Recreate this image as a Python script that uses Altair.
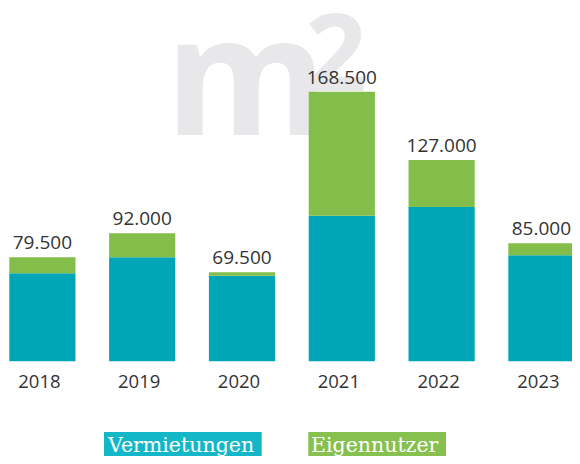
import altair as alt
import pandas as pd

# Data (m²)
years = ["2018", "2019", "2020", "2021", "2022", "2023"]
vermietungen = [55000, 65000, 53500, 91000, 96400, 66250]
eigennutzer = [10000, 15000, 2100, 77500, 29400, 7500]
total_labels = ["79.500", "92.000", "69.500", "168.500", "127.000", "85.000"]

legend_names = ["Vermietungen", "Eigennutzer"]

TEAL = "#00A6B6"
GREEN = "#84BE4A"
TEAL_LEG = "#14B7C7"
GREEN_LEG = "#86C150"
TXT = "#333333"
WM = "#E8E8EA"

df = pd.DataFrame({
    "year": years,
    "verm": vermietungen,
    "eigen": eigennutzer,
    "label": total_labels,
})
df["total"] = df["verm"] + df["eigen"]

xscale = alt.Scale(domain=years, range=[1.3, 566.5], paddingInner=0.337, paddingOuter=0)
yscale = alt.Scale(domain=[0, 220800], range=[353.3, 0])

X = alt.X("year:N", scale=xscale, axis=None)

base = alt.Chart(df)

wm_m = alt.Chart(pd.DataFrame({"t": ["m"]})).mark_text(
    font="Open Sans", fontSize=165, fontWeight="bold", color=WM, align="left", baseline="alphabetic"
).encode(text="t:N", x=alt.value(157), y=alt.value(127))

wm_2 = alt.Chart(pd.DataFrame({"t": ["2"]})).mark_text(
    font="Open Sans", fontSize=108, fontWeight="bold", color=WM, align="left", baseline="alphabetic"
).encode(text="t:N", x=alt.value(297), y=alt.value(83))

teal_bars = base.mark_bar(color=TEAL).encode(
    x=X, y=alt.Y("verm:Q", scale=yscale, axis=None)
)
green_bars = base.mark_bar(color=GREEN).encode(
    x=X, y=alt.Y("verm:Q", scale=yscale, axis=None), y2="total:Q"
)
value_labels = base.mark_text(
    font="Open Sans", fontSize=19, color=TXT, baseline="alphabetic", dy=-8
).encode(x=X, y=alt.Y("total:Q", scale=yscale, axis=None), text="label:N")

year_labels = base.mark_text(
    font="Open Sans", fontSize=18.5, color=TXT, baseline="alphabetic", dx=-3
).encode(x=X, y=alt.value(380), text="year:N")

leg1_box = alt.Chart(pd.DataFrame({"a": [0]})).mark_rect(color=TEAL_LEG).encode(
    x=alt.value(96), x2=alt.value(253.7), y=alt.value(424), y2=alt.value(460)
)
leg2_box = alt.Chart(pd.DataFrame({"a": [0]})).mark_rect(color=GREEN_LEG).encode(
    x=alt.value(300.3), x2=alt.value(438), y=alt.value(424), y2=alt.value(460)
)
leg1_txt = alt.Chart(pd.DataFrame({"t": [legend_names[0]]})).mark_text(
    font="DejaVu Serif", fontSize=20.5, color="white", align="left", baseline="alphabetic"
).encode(text="t:N", x=alt.value(100), y=alt.value(444))
leg2_txt = alt.Chart(pd.DataFrame({"t": [legend_names[1]]})).mark_text(
    font="DejaVu Serif", fontSize=20.5, color="white", align="left", baseline="alphabetic"
).encode(text="t:N", x=alt.value(303), y=alt.value(444))

chart = alt.layer(
    wm_m, wm_2, teal_bars, green_bars, value_labels, year_labels,
    leg1_box, leg2_box, leg1_txt, leg2_txt
).properties(
    width=564, height=448, autosize=alt.AutoSizeParams(type="none"), padding=0,
    background="white"
).configure_view(strokeWidth=0, stroke="transparent")

chart.save("out.html", embed_options={"renderer": "svg", "actions": False})
